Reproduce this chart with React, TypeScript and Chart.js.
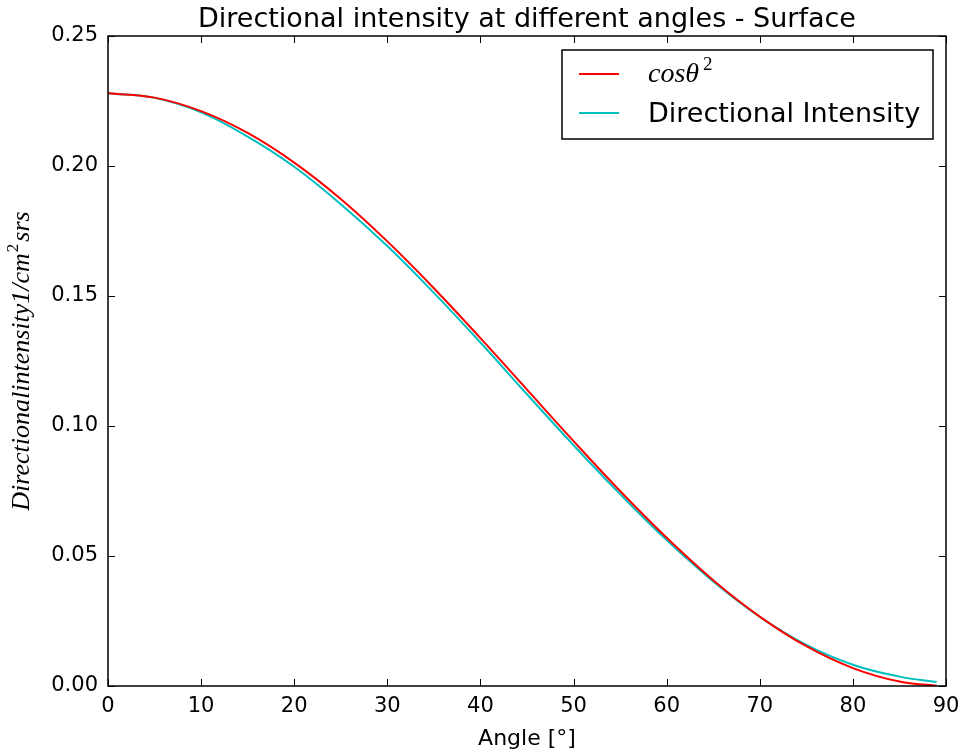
import React, { useEffect, useRef } from "react";
import { Chart, registerables } from "chart.js";

Chart.register(...registerables);

const angles = [0, 5, 10, 15, 20, 25, 30, 35, 40, 45, 50, 55, 60, 65, 70, 75, 80, 85, 89];
const cosSquared = [0.228, 0.2263, 0.2211, 0.2127, 0.2013, 0.1873, 0.171, 0.153, 0.1338, 0.114, 0.0942, 0.075, 0.057, 0.0407, 0.0267, 0.0153, 0.0069, 0.0017, 0.0001];
const directionalIntensity = [0.228, 0.2262, 0.2206, 0.2113, 0.1997, 0.1853, 0.1692, 0.1512, 0.1321, 0.1122, 0.0926, 0.0738, 0.0561, 0.0402, 0.0266, 0.0158, 0.0082, 0.0036, 0.0015];
const xTicks = [0, 10, 20, 30, 40, 50, 60, 70, 80, 90];
const yTicks = [0, 0.05, 0.1, 0.15, 0.2, 0.25];
const titleText = "Directional intensity at different angles - Surface";
const xLabel = "Angle [°]";
const yLabelMain = "Directionalintensity1/cm";
const yLabelSup = "2";
const yLabelTail = "srs";
const legendCosMain = "cosθ";
const legendCosSup = "2";
const legendDirectional = "Directional Intensity";

const RED = "#ff0000";
const CYAN = "#00bfbf";

const decorPlugin = {
  id: "decor",
  afterDraw(chart: any) {
    const ctx = chart.ctx as CanvasRenderingContext2D;
    const { left, right, top, bottom } = chart.chartArea;
    const xs = chart.scales.x;
    const ys = chart.scales.y;
    ctx.save();
    // box
    ctx.strokeStyle = "#000";
    ctx.lineWidth = 1.5;
    ctx.strokeRect(left, top, right - left, bottom - top);
    // inward ticks
    ctx.lineWidth = 1;
    const tl = 7;
    ctx.beginPath();
    xTicks.forEach((v) => {
      const px = Math.round(xs.getPixelForValue(v)) + 0.5;
      ctx.moveTo(px, bottom);
      ctx.lineTo(px, bottom - tl);
      ctx.moveTo(px, top);
      ctx.lineTo(px, top + tl);
    });
    yTicks.forEach((v) => {
      const py = Math.round(ys.getPixelForValue(v)) + 0.5;
      ctx.moveTo(left, py);
      ctx.lineTo(left + tl, py);
      ctx.moveTo(right, py);
      ctx.lineTo(right - tl, py);
    });
    ctx.stroke();

    // title
    ctx.fillStyle = "#000";
    ctx.font = "27px 'DejaVu Sans'";
    ctx.textAlign = "center";
    ctx.textBaseline = "alphabetic";
    ctx.fillText(titleText, (left + right) / 2, 27);

    // x label
    ctx.font = "22px 'DejaVu Sans'";
    ctx.fillText(xLabel, (left + right) / 2, 745);

    // y label (rotated, italic serif)
    ctx.save();
    ctx.translate(29, (top + bottom) / 2);
    ctx.rotate(-Math.PI / 2);
    const mainFont = "italic 26px 'Liberation Serif'";
    const supFont = "17px 'Liberation Serif'";
    ctx.font = mainFont;
    const w1 = ctx.measureText(yLabelMain).width;
    ctx.font = supFont;
    const w2 = ctx.measureText(yLabelSup).width;
    ctx.font = mainFont;
    const w3 = ctx.measureText(yLabelTail).width;
    const total = w1 + w2 + 3 + w3;
    let cx = -total / 2;
    ctx.textAlign = "left";
    ctx.font = mainFont;
    ctx.fillText(yLabelMain, cx, 0);
    cx += w1;
    ctx.font = supFont;
    ctx.fillText(yLabelSup, cx + 1, -11);
    cx += w2 + 3;
    ctx.font = mainFont;
    ctx.fillText(yLabelTail, cx, 0);
    ctx.restore();

    // legend
    ctx.fillStyle = "#fff";
    ctx.fillRect(562, 50, 371, 89);
    ctx.strokeStyle = "#000";
    ctx.lineWidth = 1.5;
    ctx.strokeRect(562, 50, 371, 89);
    ctx.lineWidth = 2;
    ctx.strokeStyle = RED;
    ctx.beginPath();
    ctx.moveTo(579, 74);
    ctx.lineTo(619, 74);
    ctx.stroke();
    ctx.strokeStyle = CYAN;
    ctx.beginPath();
    ctx.moveTo(579, 113);
    ctx.lineTo(619, 113);
    ctx.stroke();
    ctx.fillStyle = "#000";
    ctx.textAlign = "left";
    ctx.font = "italic 28px 'Liberation Serif'";
    ctx.fillText(legendCosMain, 648, 82);
    const wc = ctx.measureText(legendCosMain).width;
    ctx.font = "19px 'Liberation Serif'";
    ctx.fillText(legendCosSup, 648 + wc + 4, 70);
    ctx.font = "27px 'DejaVu Sans'";
    ctx.fillText(legendDirectional, 648, 122);
    ctx.restore();
  },
};

export default function App() {
  const ref = useRef<HTMLCanvasElement | null>(null);
  useEffect(() => {
    if (!ref.current) return;
    const chart = new Chart(ref.current, {
      type: "line",
      data: {
        datasets: [
          {
            label: "cosθ²",
            data: angles.map((a, i) => ({ x: a, y: cosSquared[i] })),
            borderColor: RED,
            backgroundColor: RED,
            borderWidth: 2,
            pointRadius: 0,
            tension: 0.4,
          },
          {
            label: legendDirectional,
            data: angles.map((a, i) => ({ x: a, y: directionalIntensity[i] })),
            borderColor: CYAN,
            backgroundColor: CYAN,
            borderWidth: 2,
            pointRadius: 0,
            tension: 0.4,
          },
        ],
      },
      options: {
        responsive: false,
        animation: false,
        layout: { padding: { top: 36, right: 16, bottom: 0, left: 0 } },
        plugins: {
          legend: { display: false },
          title: { display: false },
          tooltip: { enabled: false },
        },
        scales: {
          x: {
            type: "linear",
            min: 0,
            max: 90,
            afterBuildTicks: (s: any) => {
              s.ticks = xTicks.map((v) => ({ value: v }));
            },
            afterFit: (s: any) => {
              s.height = 67;
              s.paddingLeft = 0;
              s.paddingRight = 0;
            },
            grid: { display: false, drawTicks: false },
            border: { display: false },
            ticks: {
              color: "#000",
              font: { family: "'DejaVu Sans'", size: 21 },
              padding: 8,
              maxRotation: 0,
            },
          },
          y: {
            type: "linear",
            min: 0,
            max: 0.25,
            afterBuildTicks: (s: any) => {
              s.ticks = yTicks.map((v) => ({ value: v }));
            },
            afterFit: (s: any) => {
              s.width = 108;
              s.paddingTop = 0;
              s.paddingBottom = 0;
            },
            grid: { display: false, drawTicks: false },
            border: { display: false },
            ticks: {
              color: "#000",
              font: { family: "'DejaVu Sans'", size: 21 },
              padding: 10,
              callback: (v: any) => Number(v).toFixed(2),
            },
          },
        },
      },
      plugins: [decorPlugin],
    });
    return () => chart.destroy();
  }, []);
  return (
    <div style={{ position: "fixed", left: 0, top: 0, width: 962, height: 753, background: "#fff" }}>
      <canvas ref={ref} width={962} height={753} style={{ display: "block" }} />
    </div>
  );
}
